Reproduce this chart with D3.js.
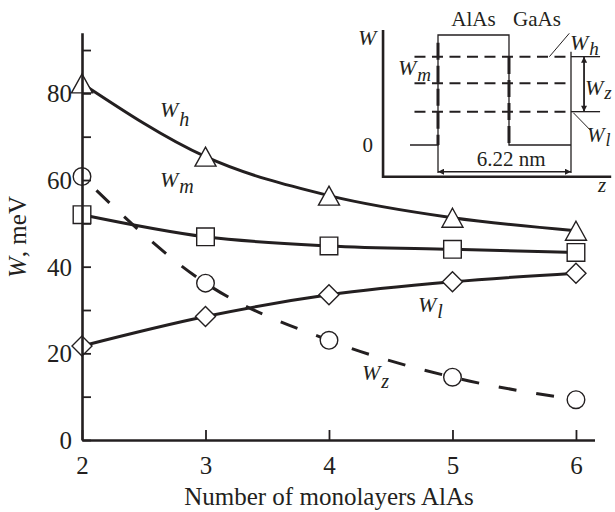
<!DOCTYPE html>
<html>
<head>
<meta charset="utf-8">
<script src="https://cdn.jsdelivr.net/npm/d3@7"></script>
<style>
  body { margin: 0; background: #fff; }
  svg { display: block; }
  text { font-family: "Liberation Serif", "Times New Roman", serif; fill: #231f20; }
</style>
</head>
<body>
<svg id="chart" width="615" height="512"></svg>
<script>
// ---- data: level energies (meV) vs. number of AlAs monolayers ----
const monolayers = [2, 3, 4, 5, 6];
const Wh = [82.3, 65.4, 56.4, 51.3, 48.3];
const Wm = [52.0, 46.9, 44.8, 44.0, 43.3];
const Wl = [21.7, 28.5, 33.5, 36.5, 38.5];
const Wz = [60.8, 36.2, 23.0, 14.5, 9.3];

const xTickValues = [2, 3, 4, 5, 6];
const yTickValues = [10, 20, 30, 40, 50, 60, 70, 80, 90];
const yLabelValues = [0, 20, 40, 60, 80];

// ---- inset: schematic band profile (z in nm, W in units of barrier height) ----
const wellProfile = [[-1.31, 0], [0, 0], [0, 1], [3.32, 1], [3.32, 0], [6.22, 0]];
const levelNames = ["h", "m", "l"];
const levelEnergies = [0.803, 0.561, 0.303];
const wellWidth = 6.22;
const interfaceZ = 3.32;

const INK = "#231f20";
const svg = d3.select("#chart");

// ---- main plot scales ----
const x = d3.scaleLinear().domain([2, 6.15]).range([82, 594.5]);
const y = d3.scaleLinear().domain([0, 94]).range([440, 32.7]);

// ---- curves ----
const line = d3.line()
  .x((d, i) => x(monolayers[i]))
  .y(d => y(d))
  .curve(d3.curveMonotoneX);

const curves = svg.append("g").attr("fill", "none").attr("stroke", INK).attr("stroke-width", 3);
[Wh, Wm, Wl].forEach(s => curves.append("path").attr("d", line(s)));
curves.append("path").attr("d", line(Wz)).attr("stroke-dasharray", "18,20").attr("stroke-dashoffset", -20);

// ---- markers ----
const markerShapes = {
  triangle: "M0,-9.5L10.5,9.5L-10.5,9.5Z",
  square: "M-8.8,-8.8H8.8V8.8H-8.8Z",
  diamond: "M0,-10L10,0L0,10L-10,0Z"
};
const markers = svg.append("g").attr("fill", "#fff").attr("stroke", INK).attr("stroke-width", 1.4);
function drawMarkers(series, shape) {
  markers.selectAll(null).data(series).enter().append("path")
    .attr("d", markerShapes[shape])
    .attr("transform", (d, i) => `translate(${x(monolayers[i])},${y(d)})`);
}
drawMarkers(Wh, "triangle");
drawMarkers(Wm, "square");
drawMarkers(Wl, "diamond");
markers.selectAll(null).data(Wz).enter().append("circle")
  .attr("cx", (d, i) => x(monolayers[i])).attr("cy", d => y(d)).attr("r", 8.8);

// ---- axes ----
const yAxis = d3.axisLeft(y)
  .tickValues([0, ...yTickValues])
  .tickSize(-9).tickSizeOuter(0).tickPadding(10)
  .tickFormat(d => yLabelValues.includes(d) ? d : "");
const gy = svg.append("g").attr("transform", "translate(82,0)").call(yAxis);

const xAxis = d3.axisBottom(x)
  .tickValues(xTickValues)
  .tickSize(-10).tickSizeOuter(0).tickPadding(16)
  .tickFormat(d3.format("d"));
const gx = svg.append("g").attr("transform", "translate(0,440)").call(xAxis);

[gx, gy].forEach(g => {
  g.attr("font-size", null).attr("font-family", null);
  g.selectAll("text").attr("font-size", 25).attr("fill", INK);
  g.select(".domain").attr("stroke", INK).attr("stroke-width", 2.6);
  g.selectAll(".tick line").attr("stroke", INK).attr("stroke-width", 1.8);
});
gy.selectAll(".tick text").attr("dy", "0.34em");

svg.append("text").attr("x", x(4)).attr("y", 505)
  .attr("text-anchor", "middle").attr("font-size", 25)
  .text("Number of monolayers AlAs");

svg.append("text").attr("transform", "translate(26,237) rotate(-90)")
  .attr("text-anchor", "middle").attr("font-size", 25)
  .call(t => {
    t.append("tspan").attr("font-style", "italic").text("W");
    t.append("tspan").text(", meV");
  });

// subscripted symbol label
function symLabel(g, px, py, sub, size, subSize, subDy) {
  const t = g.append("text").attr("x", px).attr("y", py).attr("font-size", size).attr("font-style", "italic");
  t.append("tspan").text("W");
  t.append("tspan").attr("font-size", subSize).attr("dy", subDy).attr("dx", 1).text(sub);
  return t;
}
symLabel(svg, 160, 117, "h", 22, 20, 9);
symLabel(svg, 160, 187, "m", 22, 20, 6);
symLabel(svg, 418, 312, "l", 22, 20, 6);
symLabel(svg, 362, 380, "z", 22, 20, 8);

// ---- inset ----
const zs = d3.scaleLinear().domain([0, wellWidth]).range([438, 571]);
const es = d3.scaleLinear().domain([0, 1]).range([145, 35]);
const inset = svg.append("g");

const defs = svg.append("defs");
defs.append("marker").attr("id", "arrow")
  .attr("viewBox", "0 0 10 10").attr("refX", 10).attr("refY", 5)
  .attr("markerWidth", 9).attr("markerHeight", 6).attr("markerUnits", "userSpaceOnUse")
  .attr("orient", "auto-start-reverse")
  .append("path").attr("d", "M0,0L10,5L0,10Z").attr("fill", INK);

const seg = d3.line().x(d => zs(d[0])).y(d => es(d[1]));

// inset axes
inset.append("path").attr("d", seg([[-2.57, 1.045], [-2.57, -0.288], [8.1, -0.288]]))
  .attr("fill", "none").attr("stroke", INK).attr("stroke-width", 2.6);
inset.append("text").attr("x", 358).attr("y", 45).attr("font-size", 22).attr("font-style", "italic").text("W");
inset.append("text").attr("x", 598).attr("y", 192).attr("font-size", 21).attr("font-style", "italic").text("z");
inset.append("text").attr("x", 373).attr("y", 152).attr("font-size", 21).attr("text-anchor", "end").text("0");

// band profile
inset.append("path").attr("d", seg(wellProfile))
  .attr("fill", "none").attr("stroke", INK).attr("stroke-width", 1.3);
// heavy dashes along the interfaces
inset.append("path").attr("d", seg([[0, 0.93], [0, 0]]))
  .attr("stroke", INK).attr("stroke-width", 3).attr("stroke-dasharray", "17,6");
inset.append("path").attr("d", seg([[interfaceZ, 0.8], [interfaceZ, 0]]))
  .attr("stroke", INK).attr("stroke-width", 3).attr("stroke-dasharray", "17,6");

// extension lines and dimension
inset.append("path").attr("d", seg([[0, 0], [0, -0.255]])).attr("stroke", INK).attr("stroke-width", 1.3);
inset.append("path").attr("d", seg([[wellWidth, 0.848], [wellWidth, -0.255]])).attr("stroke", INK).attr("stroke-width", 1.3);
inset.append("path").attr("d", seg([[0, -0.243], [wellWidth, -0.243]]))
  .attr("stroke", INK).attr("stroke-width", 1.3)
  .attr("marker-start", "url(#arrow)").attr("marker-end", "url(#arrow)");
inset.append("text").attr("x", zs(wellWidth * 0.55)).attr("y", 166).attr("font-size", 21)
  .attr("text-anchor", "middle").text(`${wellWidth} nm`);

// energy levels
levelEnergies.forEach((e, i) => {
  inset.append("path").attr("d", seg([[-1.1, e], [wellWidth, e]]))
    .attr("stroke", INK).attr("stroke-width", 2).attr("stroke-dasharray", "11,6.5");
  if (levelNames[i] !== "m") {
    inset.append("path").attr("d", seg([[wellWidth, e], [7.58, e]]))
      .attr("stroke", INK).attr("stroke-width", 1.3);
  }
});
// Wz spacing arrow
inset.append("path").attr("d", seg([[6.83, levelEnergies[0]], [6.83, levelEnergies[2]]]))
  .attr("stroke", INK).attr("stroke-width", 1.8)
  .attr("marker-start", "url(#arrow)").attr("marker-end", "url(#arrow)");
// leaders
inset.append("path").attr("d", seg([[5.21, levelEnergies[0]], [6.14, 1.015]])).attr("stroke", INK).attr("stroke-width", 1);
inset.append("path").attr("d", seg([[6.33, levelEnergies[2] - 0.01], [7.15, 0.13]])).attr("stroke", INK).attr("stroke-width", 1);

// material labels
inset.append("text").attr("x", zs(interfaceZ / 2)).attr("y", 26).attr("font-size", 21).attr("text-anchor", "middle").text("AlAs");
inset.append("text").attr("x", 537).attr("y", 26).attr("font-size", 21).attr("text-anchor", "middle").text("GaAs");

symLabel(inset, 570, 50, "h", 22, 19, 5);
symLabel(inset, 398, 75, "m", 22, 19, 6);
symLabel(inset, 585, 95, "z", 22, 19, 4);
symLabel(inset, 587, 142, "l", 21, 18, 4);
</script>
</body>
</html>
